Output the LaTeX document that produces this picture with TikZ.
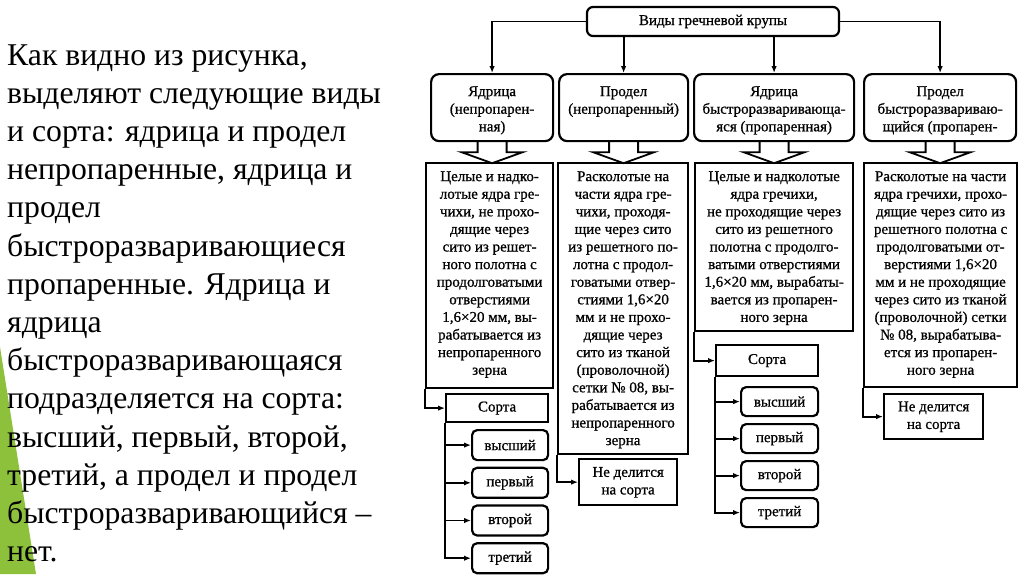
\documentclass[tikz,border=0pt]{standalone}
\usepackage{fontspec}
\setmainfont{Liberation Serif}
\newfontface\schemefont{Liberation Serif}[FakeBold=0.8]
\usetikzlibrary{arrows.meta,calc,positioning}
\definecolor{leafgreen}{RGB}{141,193,60}
\newcommand{\rowsof}[2][c]{\begin{tabular}[t]{@{}#1@{}}#2\end{tabular}}

\begin{document}
\begin{tikzpicture}[x=1pt, y=-1pt]
    \tikzset{BoxStyle/.style={draw, line width=2.2pt, inner sep=0pt, anchor=north west,
        font=\schemefont\fontsize{15pt}{17.6pt}\selectfont},
      VidStyle/.style={BoxStyle, anchor=center, rounded corners=6pt,
        minimum width=252pt, minimum height=29pt},
      HeadStyle/.style={BoxStyle, rounded corners=8pt, minimum width=#1,
        text height=22pt, text depth=45pt},
      BodyStyle/.style 2 args={BoxStyle, minimum width=#1,
        text height=18pt, text depth=#2},
      SortStyle/.style={BoxStyle, minimum width=102pt, minimum height=#1},
      GradeStyle/.style={BoxStyle, rounded corners=5pt, minimum width=#1, minimum height=30pt},
      EdgeStyle/.style={line width=1.8pt, -{Latex[length=7pt,width=5.5pt]}}}
    \useasboundingbox (0,0) rectangle (1024,574);
    \fill[leafgreen] (0,347) -- (36,574) -- (0,574) -- cycle;
    \node[anchor=base west, inner sep=0pt,
      font=\fontsize{31.7pt}{38.2pt}\selectfont] (T) at (7,65)
      {\rowsof[l]{Как видно из рисунка,\\выделяют следующие виды\\и сорта: ядрица и продел\\
       непропаренные, ядрица и\\продел\\быстроразваривающиеся\\пропаренные. Ядрица и\\
       ядрица\\быстроразваривающаяся\\подразделяется на сорта:\\высший, первый, второй,\\
       третий, а продел и продел\\быстроразваривающийся –\\нет.}};
    \node[VidStyle] (V) at (713,21.5) {Виды гречневой крупы};
    \node[HeadStyle=122pt] (H1) at (430,73) {\rowsof{Ядрица\\(непропарен-\\ная)}};
    \node[HeadStyle=129pt] (H2) at (558,73) {\rowsof{Продел\\(непропаренный)}};
    \node[HeadStyle=160pt] (H3) at (693,73) {\rowsof{Ядрица\\быстроразваривающа-\\яся (пропаренная)}};
    \node[HeadStyle=152pt] (H4) at (863,73) {\rowsof{Продел\\быстроразваривaю-\\щийся (пропарен-}};
    \draw[EdgeStyle] (V.west) -| (H1.north);
    \draw[EdgeStyle] (V.south -| H2.north) -- (H2.north);
    \draw[EdgeStyle] (V.south -| H3.north) -- (H3.north);
    \draw[EdgeStyle] (V.east) -| (H4.north);
    \foreach \n in {1,...,4}
      \draw[line width=1.8pt] ($(H\n.south)+(-14.5,0)$) -- ++(0,10) -- ++(-16,0)
        -- ($(H\n.south)+(0,21)$) -- ($(H\n.south)+(30.5,10)$) -- ++(-16,0) -- ++(0,-10);
    \node[BodyStyle={127pt}{207pt}] (B1) at (425,162)
      {\rowsof{Целые и надко-\\лотые ядра гре-\\чихи, не прохо-\\дящие через\\сито из решет-\\
       ного полотна с\\продолговатыми\\отверстиями\\1,6×20 мм, вы-\\рабатывается из\\
       непропаренного\\зерна}};
    \node[BodyStyle={130pt}{273pt}] (B2) at (557,162)
      {\rowsof{Расколотые на\\части ядра гре-\\чихи, проходя-\\щие через сито\\из решетного по-\\
       лотна с продол-\\говатыми отвер-\\стиями 1,6×20\\мм и не прохо-\\дящие через\\
       сито из тканой\\(проволочной)\\сетки № 08, вы-\\рабатывается из\\непропаренного\\зерна}};
    \node[BodyStyle={158pt}{150pt}] (B3) at (694,162)
      {\rowsof{Целые и надколотые\\ядра гречихи,\\не проходящие через\\сито из решетного\\
       полотна с продолго-\\ватыми отверстиями\\1,6×20 мм, вырабаты-\\вается из пропарен-\\
       ного зерна}};
    \node[BodyStyle={153pt}{206pt}] (B4) at (863,162)
      {\rowsof{Расколотые на части\\ядра гречихи, прохо-\\дящие через сито из\\решетного полотна с\\
       продолговатыми от-\\верстиями 1,6×20\\мм и не проходящие\\через сито из тканой\\
       (проволочной) сетки\\№ 08, вырабатыва-\\ется из пропарен-\\ного зерна}};
    \node[SortStyle=28pt] (S1) at (445,393) {Сорта};
    \node[SortStyle=31pt] (S3) at (715,344) {Сорта};
    \node[SortStyle=46pt, minimum width=98pt] (N2) at (578,458) {\rowsof{Не делится\\на сорта}};
    \node[SortStyle=45pt, minimum width=99pt] (N4) at (883,393) {\rowsof{Не делится\\на сорта}};
    \foreach \g [count=\i] in {высший,первый,второй,третий} {
      \node[GradeStyle=76pt] (G1\i) at (471,{429+37.7*(\i-1)}) {\g};
      \node[GradeStyle=77pt, minimum height=29pt] (G3\i) at (740,{386+37*(\i-1)}) {\g};
      \draw[EdgeStyle] (S1.south west) |- (G1\i.west);
      \draw[EdgeStyle] (S3.south west) |- (G3\i.west);
    }
    \draw[EdgeStyle] (B1.south west) |- (S1.west);
    \draw[EdgeStyle] (B2.south west) |- (N2.west);
    \draw[EdgeStyle] (B3.south west) |- (S3.west);
    \draw[EdgeStyle] (B4.south west) |- (N4.west);
\end{tikzpicture}
\end{document}
